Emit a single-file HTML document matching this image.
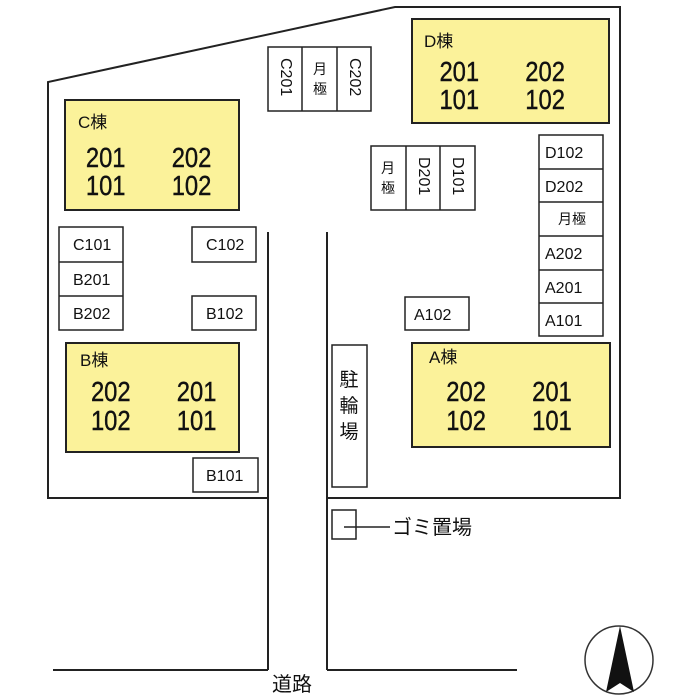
<!DOCTYPE html>
<html><head><meta charset="utf-8"><style>
html,body{margin:0;padding:0;background:#fff}
svg{display:block}
text{font-family:"Liberation Sans","Noto Sans CJK JP",sans-serif;fill:#111}
.s{font-size:16px}
.n{font-size:28px;stroke:#111;stroke-width:0.4}
.t{font-size:17px}
</style></head><body>
<svg width="700" height="700" viewBox="0 0 700 700" xmlns="http://www.w3.org/2000/svg">
<g fill="none" stroke="#222" stroke-width="2">
<polyline points="268,498 48,498 48,82 395,7 620,7 620,498 327,498"/>
<line x1="268" y1="232" x2="268" y2="670"/>
<line x1="327" y1="232" x2="327" y2="670"/>
<line x1="53" y1="670" x2="268" y2="670"/>
<line x1="327" y1="670" x2="517" y2="670"/>
</g>
<g fill="#fbf29a" stroke="#222" stroke-width="2">
<rect x="65" y="100" width="174" height="110"/>
<rect x="412" y="19" width="197" height="104"/>
<rect x="66" y="343" width="173" height="109"/>
<rect x="412" y="343" width="198" height="104"/>
</g>
<g fill="#fff" stroke="#222" stroke-width="1.5">
<rect x="268" y="47" width="103" height="64"/><line x1="302" y1="47" x2="302" y2="111"/><line x1="337" y1="47" x2="337" y2="111"/>
<rect x="371" y="146" width="104" height="64"/><line x1="406" y1="146" x2="406" y2="210"/><line x1="440" y1="146" x2="440" y2="210"/>
<rect x="539" y="135" width="64" height="201"/>
<line x1="539" y1="169" x2="603" y2="169"/><line x1="539" y1="202" x2="603" y2="202"/><line x1="539" y1="236" x2="603" y2="236"/><line x1="539" y1="270" x2="603" y2="270"/><line x1="539" y1="303" x2="603" y2="303"/>
<rect x="59" y="227" width="64" height="103"/><line x1="59" y1="262" x2="123" y2="262"/><line x1="59" y1="296" x2="123" y2="296"/>
<rect x="192" y="227" width="64" height="35"/>
<rect x="192" y="296" width="64" height="34"/>
<rect x="405" y="297" width="64" height="33"/>
<rect x="193" y="458" width="65" height="34"/>
<rect x="332" y="345" width="35" height="142"/>
<rect x="332" y="510" width="24" height="29"/>
</g>
<line x1="344" y1="527" x2="390" y2="527" stroke="#222" stroke-width="1.5"/>
<g class="s">
<text x="73" y="250">C101</text><text x="73" y="285">B201</text><text x="73" y="319">B202</text>
<text x="206" y="250">C102</text><text x="206" y="319">B102</text>
<text x="414" y="320">A102</text><text x="206" y="481">B101</text>
<text x="545" y="158">D102</text><text x="545" y="192">D202</text><text x="558" y="224" style="font-size:14px">月極</text>
<text x="545" y="259">A202</text><text x="545" y="293">A201</text><text x="545" y="326">A101</text>
<text transform="translate(281,58) rotate(90)">C201</text>
<text transform="translate(350,58) rotate(90)">C202</text>
<text transform="translate(419,157) rotate(90)">D201</text>
<text transform="translate(453,157) rotate(90)">D101</text>
</g>
<g style="font-size:14px">
<text x="313" y="74">月</text><text x="313" y="94">極</text>
<text x="381" y="173">月</text><text x="381" y="193">極</text>
</g>
<g class="t">
<text x="78" y="128">C棟</text><text x="424" y="47">D棟</text>
<text x="80" y="366">B棟</text><text x="429" y="363">A棟</text>
<text x="349" y="386" text-anchor="middle" style="font-size:19px">駐</text><text x="349" y="412" text-anchor="middle" style="font-size:19px">輪</text><text x="349" y="438" text-anchor="middle" style="font-size:19px">場</text>
<text x="392" y="534" style="font-size:20px">ゴミ置場</text>
<text x="272" y="691" style="font-size:20px">道路</text>
</g>
<g class="n" transform="scale(0.85,1)">
<text x="101" y="167">201</text><text x="202" y="167">202</text>
<text x="101" y="195">101</text><text x="202" y="195">102</text>
<text x="517" y="81">201</text><text x="618" y="81">202</text>
<text x="517" y="109">101</text><text x="618" y="109">102</text>
<text x="107" y="401">202</text><text x="208" y="401">201</text>
<text x="107" y="430">102</text><text x="208" y="430">101</text>
<text x="525" y="401">202</text><text x="626" y="401">201</text>
<text x="525" y="430">102</text><text x="626" y="430">101</text>
</g>
<ellipse cx="619" cy="660" rx="34" ry="34" fill="none" stroke="#333" stroke-width="1.5"/>
<polygon points="620,626 606,692 620,683 634,692" fill="#111"/>
</svg>
</body></html>
